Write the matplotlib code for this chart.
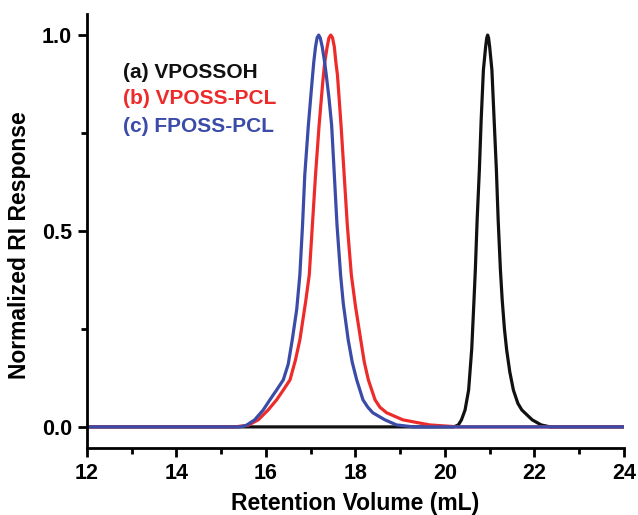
import matplotlib
matplotlib.use("Agg")
import matplotlib.pyplot as plt
from matplotlib.ticker import MultipleLocator, FormatStrFormatter

plt.rcParams['font.family'] = ['Liberation Sans', 'DejaVu Sans']
plt.rcParams['font.weight'] = 'bold'

# (a) VPOSSOH
x_a = [12.0, 20.2, 20.3, 20.37, 20.45, 20.53, 20.60, 20.65, 20.68, 20.72, 20.77, 20.81,
       20.86, 20.91, 20.935, 20.955, 20.975, 21.0, 21.05, 21.10, 21.15, 21.19, 21.24,
       21.28, 21.33, 21.38, 21.45, 21.53, 21.63, 21.72, 21.95, 22.15, 22.35, 24.0]
y_a = [0.0, 0.0, 0.005, 0.018, 0.043, 0.094, 0.20, 0.324, 0.401, 0.528, 0.656, 0.783,
       0.911, 0.97, 0.993, 1.0, 0.993, 0.97, 0.911, 0.783, 0.656, 0.528, 0.401,
       0.324, 0.25, 0.196, 0.14, 0.094, 0.06, 0.043, 0.018, 0.005, 0.0, 0.0]

# (b) VPOSS-PCL
x_b = [12.0, 15.3, 15.6, 15.83, 16.05, 16.24, 16.39, 16.54, 16.66, 16.76, 16.89, 16.97,
       17.04, 17.11, 17.19, 17.27, 17.315, 17.37, 17.41, 17.45, 17.49, 17.53, 17.565,
       17.60, 17.68, 17.75, 17.82, 17.91, 18.00, 18.12, 18.20, 18.29, 18.44, 18.55,
       18.70, 19.06, 19.66, 20.3, 24.0]
y_b = [0.0, 0.0, 0.004, 0.018, 0.043, 0.069, 0.094, 0.12, 0.17, 0.222, 0.32, 0.388,
       0.515, 0.643, 0.770, 0.878, 0.93, 0.97, 0.993, 1.0, 0.993, 0.97, 0.93,
       0.898, 0.770, 0.643, 0.515, 0.388, 0.31, 0.222, 0.165, 0.12, 0.069, 0.05,
       0.036, 0.018, 0.005, 0.0, 0.0]

# (c) FPOSS-PCL
x_c = [12.0, 15.4, 15.55, 15.75, 15.94, 16.09, 16.24, 16.39, 16.5, 16.59, 16.69, 16.76,
       16.82, 16.87, 16.95, 17.03, 17.07, 17.11, 17.145, 17.18, 17.215, 17.26, 17.315,
       17.35, 17.41, 17.47, 17.53, 17.59, 17.67, 17.73, 17.84, 17.93, 18.03, 18.17,
       18.28, 18.39, 18.66, 18.92, 19.3, 24.0]
y_c = [0.0, 0.0, 0.003, 0.018, 0.043, 0.069, 0.094, 0.12, 0.16, 0.222, 0.30, 0.388,
       0.515, 0.643, 0.770, 0.878, 0.93, 0.97, 0.993, 1.0, 0.993, 0.97, 0.93,
       0.898, 0.84, 0.770, 0.643, 0.515, 0.388, 0.315, 0.222, 0.165, 0.12, 0.069,
       0.05, 0.036, 0.018, 0.005, 0.0, 0.0]

labels = ["(a) VPOSSOH", "(b) VPOSS-PCL", "(c) FPOSS-PCL"]
colors = ["#111111", "#ee2b2b", "#3b4ba8"]

fig = plt.figure(figsize=(6.38, 5.15), dpi=100)
ax = fig.add_axes([0.136, 0.130, 0.842, 0.843])

for xs, ys, c in zip([x_a, x_b, x_c], [y_a, y_b, y_c], colors):
    ax.plot(xs, ys, color=c, lw=2.3, solid_joinstyle='round', solid_capstyle='round')

ax.set_xlim(12, 24)
ax.set_ylim(-0.054, 1.054)
ax.spines['top'].set_visible(False)
ax.spines['right'].set_visible(False)
for s in ['left', 'bottom']:
    ax.spines[s].set_linewidth(2.0)

ax.xaxis.set_major_locator(MultipleLocator(2))
ax.xaxis.set_minor_locator(MultipleLocator(1))
ax.yaxis.set_major_locator(MultipleLocator(0.5))
ax.yaxis.set_minor_locator(MultipleLocator(0.25))
ax.yaxis.set_major_formatter(FormatStrFormatter('%.1f'))

ax.tick_params(which='major', direction='out', length=6.5, width=2.0, labelsize=15.5, pad=4)
ax.tick_params(which='minor', direction='out', length=4, width=2.0)
for lab in ax.get_xticklabels() + ax.get_yticklabels():
    lab.set_fontweight('bold')

ax.set_xlabel("Retention Volume (mL)", fontsize=16.5, fontweight='bold', labelpad=6)
ax.set_ylabel("Normalized RI Response", fontsize=16.5, fontweight='bold')
ax.yaxis.set_label_coords(-0.104, 0.468)

ypos = [0.866, 0.804, 0.740]
for lab, c, yp in zip(labels, colors, ypos):
    ax.text(0.067, yp, lab, color=c, fontsize=15, fontweight='bold',
            transform=ax.transAxes, va='center', ha='left')

fig.savefig("out.png", dpi=100)
